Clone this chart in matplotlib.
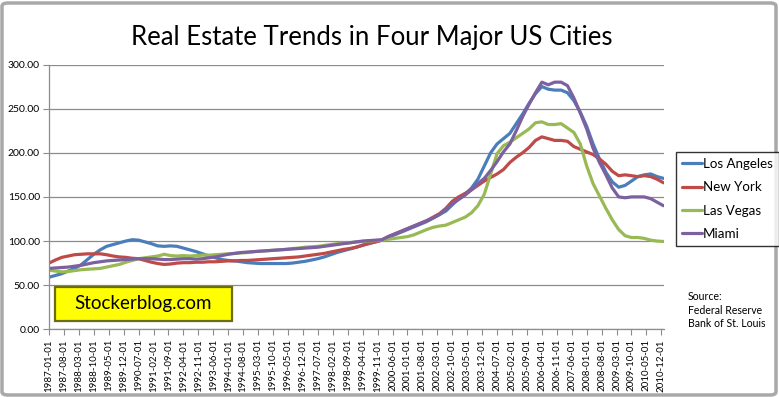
import matplotlib
matplotlib.use("Agg")
import matplotlib.pyplot as plt
import pandas as pd
from matplotlib.patches import FancyBboxPatch, Rectangle

plt.rcParams['font.family'] = ['Lato', 'DejaVu Sans']

# quarterly observation dates, 1987-01 .. 2011-01
dates = pd.date_range('1987-01-01', '2011-01-01', freq='QS')

los_angeles = [59, 61, 63, 66, 69, 73, 79, 85, 90, 94, 96, 98, 100, 101.5, 101, 99, 97, 94.5, 94, 94.5,
               94, 92, 90, 88, 85.5, 83, 81, 79, 78, 77.5, 76.5, 75.5, 75, 74.5, 74.5, 74.5, 74.5, 74.5, 75, 76,
               77, 78.5, 80, 82, 84.5, 87, 89, 91, 93, 95.5, 97, 99, 101, 104.5, 107, 110, 113, 116, 119, 122,
               126, 130, 134, 141, 148, 153, 160, 170, 185, 200, 210, 216, 222, 233, 244, 256, 267, 275, 272, 271,
               271, 268, 259, 246, 230, 210, 193, 178, 167, 161, 163, 168, 173, 175, 176, 173, 171]
new_york = [75, 78.5, 81.5, 83, 84.5, 85, 85.5, 85.5, 85.5, 84.5, 83, 82, 81.5, 80.5, 80, 78, 76, 74.5, 73.5, 74,
            75, 75.5, 75.5, 76, 76, 76.5, 76.5, 77, 77.5, 77.5, 78, 78, 78.5, 79, 79.5, 80, 80.5, 81, 81.5, 82,
            83, 84, 85, 86, 87.5, 89, 90.5, 91.5, 93, 95, 97.5, 99, 101, 105, 108, 111, 114, 117, 120, 123,
            127, 131, 137, 145, 150, 154, 158, 163, 168, 172, 176, 181, 189, 195, 200, 206, 214, 218, 216, 214,
            214, 213, 207, 204, 201, 198, 193, 187, 179, 174, 175, 174, 173, 174, 173, 170, 166]
las_vegas = [67, 66, 65, 65.5, 66.5, 67.5, 68, 68.5, 69, 70.5, 72, 73.5, 76, 78, 80, 81, 82, 83, 85, 83.5,
             83, 83.5, 83, 83.5, 84, 84, 84.5, 85, 85.5, 86, 86.5, 87, 88, 88.5, 89, 89.5, 90, 90.5, 91.5, 92,
             93, 93.5, 94, 95, 96, 97, 97.5, 98, 99, 99.5, 100, 100.5, 101, 102, 103, 104, 105, 107, 110, 113,
             115.5, 117, 118, 121, 124, 127, 132, 140, 153, 176, 199, 208, 212, 217, 222, 227, 234, 235, 232, 232,
             233, 228, 223, 210, 185, 165, 151, 137, 124, 113, 106, 104, 104, 103, 101, 100, 99.5]
miami = [69, 69.5, 70, 70.5, 71.5, 72.5, 74, 75.5, 76.5, 77.5, 78, 78.5, 79, 79.5, 80, 80, 80, 79.5, 79, 79,
         79.5, 80, 80, 79.5, 80, 81, 82, 83.5, 85, 86, 87, 87.5, 88, 88.5, 89, 89.5, 90, 90.5, 91, 91.5,
         92, 92.5, 93, 94, 95, 96, 97, 98, 99, 100, 100.5, 101, 101.5, 105, 108, 111, 114, 117, 120, 123,
         126, 130, 136, 142, 147, 152, 158, 165, 171, 180, 190, 201, 210, 225, 241, 255, 268, 280, 277, 280,
         280, 276, 262, 245, 227, 205, 189, 175, 160, 150, 149, 150, 150, 150, 148, 144, 140]

series_names = ['Los Angeles', 'New York', 'Las Vegas', 'Miami']
series_values = [los_angeles, new_york, las_vegas, miami]
series_colors = ['#4A7EBB', '#BE4B48', '#98B954', '#7D60A0']

tick_dates = pd.date_range('1987-01-01', '2010-12-01', freq='7MS')
tick_labels = [d.strftime('%Y-%m-%d') for d in tick_dates]
y_ticks = [0, 50, 100, 150, 200, 250, 300]


def month_index(ds):
    return [(d.year - 1987) * 12 + d.month - 1 for d in ds]


W, H = 779, 397
fig = plt.figure(figsize=(W / 100, H / 100), dpi=100)
fig.patch.set_facecolor('white')
fig.patches.append(FancyBboxPatch((2 / W, 2 / H), 1 - 5 / W, 1 - 5 / H,
                                  boxstyle='round,pad=0,rounding_size=0.008',
                                  transform=fig.transFigure, edgecolor='#a9a9a9',
                                  linewidth=2.5, facecolor='white', zorder=-10))

ax = fig.add_axes([49 / W, 1 - 329.3 / H, (663.5 - 49) / W, (329.3 - 64.5) / H])
xm = month_index(dates)
for name, vals, col in zip(series_names, series_values, series_colors):
    ax.plot(xm, vals, color=col, lw=2.3, label=name, solid_capstyle='round', solid_joinstyle='round')

ax.set_xlim(xm[0], xm[-1])
ax.set_ylim(0, 300)
ax.set_yticks(y_ticks)
ax.set_yticklabels([f'{v:.2f}' for v in y_ticks], fontsize=7.5)
ax.set_xticks(month_index(tick_dates))
ax.set_xticklabels(tick_labels, rotation=90, fontsize=7)
ax.grid(axis='y', color='#8c8c8c', lw=0.9)
ax.set_axisbelow(True)
for s in ['top', 'right']:
    ax.spines[s].set_visible(False)
for s in ['left', 'bottom']:
    ax.spines[s].set_color('#8c8c8c')
    ax.spines[s].set_linewidth(0.9)
ax.tick_params(axis='both', colors='#8c8c8c', length=4, width=0.8, labelcolor='black')
ax.tick_params(axis='y', pad=2.5)
ax.tick_params(axis='x', pad=3)

fig.text(372 / W, 1 - 38 / H, 'Real Estate Trends in Four Major US Cities',
         ha='center', va='center', fontsize=18.5)

leg = fig.legend(loc='upper left', bbox_to_anchor=(676 / W, 1 - 152 / H),
                 frameon=True, fontsize=9.6, handlelength=1.5, handletextpad=0.05,
                 borderpad=0.45, labelspacing=0.85, fancybox=False, borderaxespad=0)
leg.get_frame().set_edgecolor('black')
leg.get_frame().set_linewidth(1.0)

fig.patches.append(Rectangle((55 / W, 1 - 321 / H), (232 - 55) / W, (321 - 287) / H,
                             transform=fig.transFigure, facecolor='#FFFF00',
                             edgecolor='#6b6b10', linewidth=1.6, zorder=5))
fig.text(143.5 / W, 1 - 304 / H, 'Stockerblog.com', ha='center', va='center',
         fontsize=13.5, zorder=6)

fig.text(688 / W, 1 - 291 / H, 'Source:\nFederal Reserve\nBank of St. Louis',
         ha='left', va='top', fontsize=7.6, linespacing=1.3)

fig.savefig('out.png', dpi=100)
